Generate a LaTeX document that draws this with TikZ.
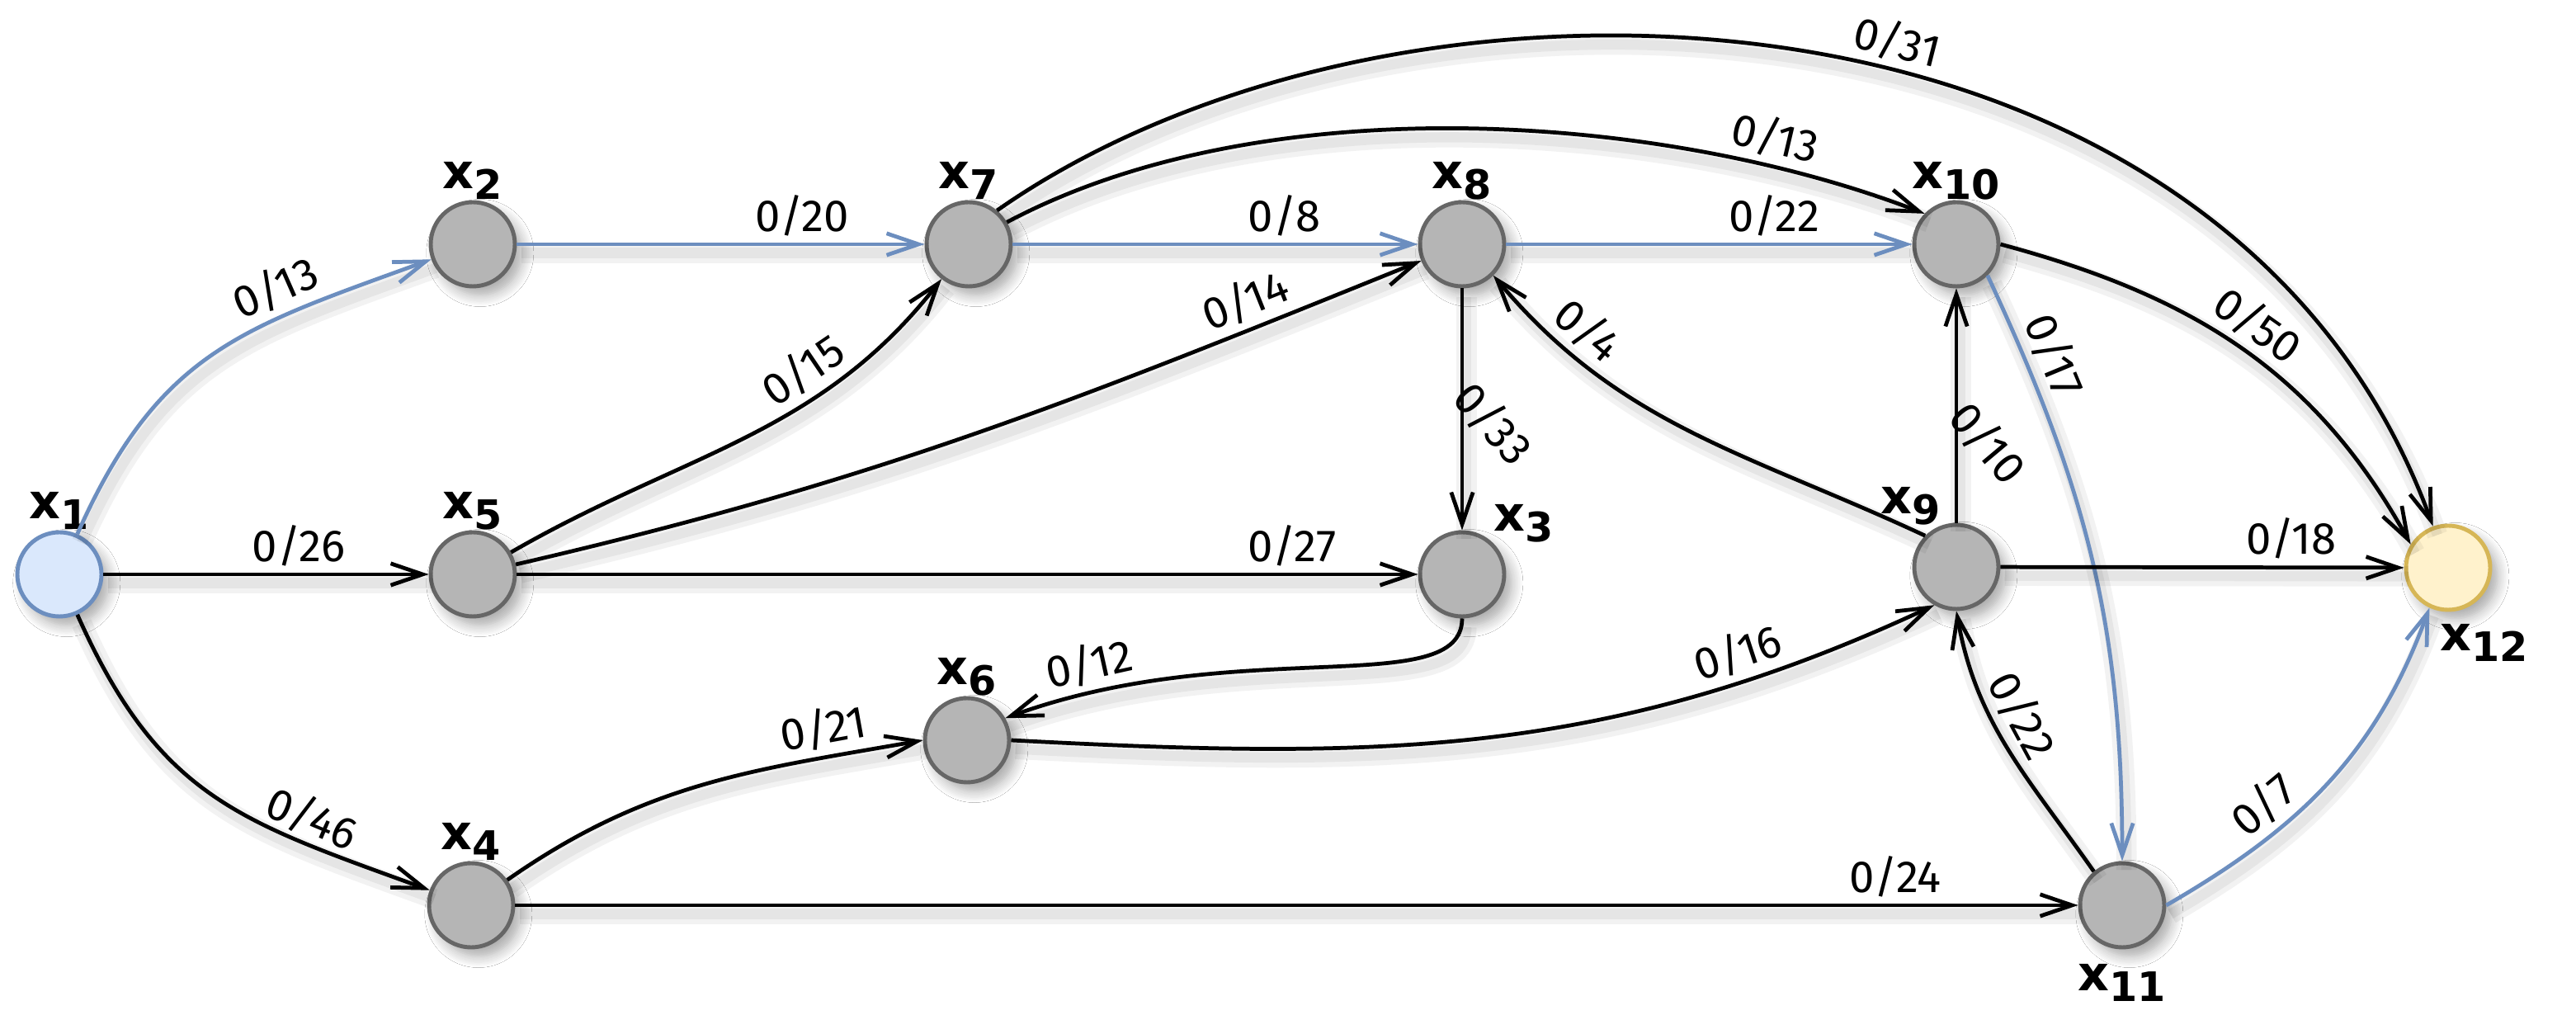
\documentclass[tikz,border=0pt]{standalone}
\usepackage{fontspec}
\setmainfont{Fira Sans}
\newfontfamily\nlfont{DejaVu Sans}
\usetikzlibrary{arrows.meta,shadows.blur}

\definecolor{nodegray}{HTML}{B5B5B5}
\definecolor{nodeline}{HTML}{666666}
\definecolor{srcfill}{HTML}{DAE8FC}
\definecolor{srcline}{HTML}{6C8EBF}
\definecolor{sinkfill}{HTML}{FFF2CC}
\definecolor{sinkline}{HTML}{D6B656}
\definecolor{pathblue}{HTML}{6C8EBF}

% vertex name x_n in bold sans with a large subscript
\newcommand{\xname}[1]{{\nlfont\bfseries\fontsize{16.7pt}{17pt}\selectfont x\raisebox{-3.7pt}{\fontsize{14pt}{14pt}\selectfont #1}}}

\tikzset{
  vertex/.style={circle, minimum size=1.02cm, inner sep=0pt, line width=1.4pt,
    draw=nodeline, fill=nodegray,
    blur shadow={shadow xshift=2.5pt, shadow yshift=-3pt, shadow blur radius=4pt,
      shadow blur steps=8, shadow opacity=35}},
  source/.style={vertex, draw=srcline, fill=srcfill},
  sink/.style={vertex, draw=sinkline, fill=sinkfill},
  nlab/.style={inner sep=0pt, label distance=0pt},
  % soft offset halo under each arc
  arcshadow/.style={
    preaction={draw=black, arrows=-, opacity=0.05, line width=7pt,
      transform canvas={shift={(1.5pt,-3pt)}}},
    preaction={draw=black, arrows=-, opacity=0.05, line width=3.5pt,
      transform canvas={shift={(1.5pt,-3pt)}}}},
  flow/.style={arcshadow, line width=1.35pt, draw=black,
    -{Straight Barb[length=11pt,width=7.5pt]}},
  augflow/.style={flow, draw=pathblue},
  elab/.style={font=\fontsize{15.5pt}{16pt}\selectfont, inner sep=1pt, text=black},
}

\begin{document}
\begin{tikzpicture}
\useasboundingbox (0,0) rectangle (31.22,12.52);
\fill[white] (0,0) rectangle (31.22,12.52);

% vertices
\node[source] (x1)  at (0.72,5.56)  [label={[nlab]above:\xname{1}}] {};
\node[vertex] (x2)  at (5.73,9.56)  [label={[nlab]above:\xname{2}}] {};
\node[vertex] (x5)  at (5.73,5.56)  [label={[nlab]above:\xname{5}}] {};
\node[vertex] (x4)  at (5.71,1.55)  [label={[nlab]above:\xname{4}}] {};
\node[vertex] (x7)  at (11.74,9.56) [label={[nlab]above:\xname{7}}] {};
\node[vertex] (x6)  at (11.72,3.55) [label={[nlab]above:\xname{6}}] {};
\node[vertex] (x8)  at (17.72,9.56) [label={[nlab]above:\xname{8}}] {};
\node[vertex] (x3)  at (17.72,5.56) [label={[nlab,anchor=south west]45:\xname{3}}] {};
\node[vertex] (x10) at (23.71,9.56) [label={[nlab]above:\xname{10}}] {};
\node[vertex] (x9)  at (23.71,5.65) [label={[nlab,anchor=south east]110:\xname{9}}] {};
\node[vertex] (x11) at (25.72,1.55) [label={[nlab,label distance=5pt]below:\xname{11}}] {};
\node[sink]   (x12) at (29.67,5.64) [label={[nlab,anchor=north west,xshift=-3pt,yshift=-4pt]-90:\xname{12}}] {};

% arcs with flow/capacity
\draw[augflow] (x1) to[out=66,in=200,looseness=1.15]
  node[elab,pos=0.7,sloped,above=1.2pt] {0/13} (x2);
\draw[flow] (x1) -- node[elab,pos=0.6,above=1.2pt] {0/26} (x5);
\draw[flow] (x1) to[out=-66,in=160,looseness=1.15]
  node[elab,pos=0.74,sloped,above=0.2pt] {0/46} (x4);
\draw[augflow] (x2) -- node[elab,pos=0.7,above=1.2pt] {0/20} (x7);
\draw[flow] (x5) to[out=30,in=232]
  node[elab,pos=0.68,sloped,above=1.2pt] {0/15} (x7);
\draw[flow] (x5) to[out=13,in=202]
  node[elab,pos=0.83,sloped,above=1.2pt] {0/14} (x8);
\draw[flow] (x5) -- node[elab,pos=0.86,above=1.2pt] {0/27} (x3);
\draw[augflow] (x7) -- node[elab,pos=0.67,above=1.2pt] {0/8} (x8);
\draw[flow] (x7.30) to[out=28,in=159,looseness=0.8]
  node[elab,pos=0.82,sloped,above=1.2pt] {0/13} (x10.136);
\draw[flow] (x7.50) to[out=35,in=110,out distance=6cm,in distance=7.3cm]
  node[elab,pos=0.56,sloped,above=1.2pt] {0/31} (x12);
\draw[augflow] (x8) -- node[elab,pos=0.66,above=1.2pt] {0/22} (x10);
\draw[flow] (x8) -- node[elab,pos=0.56,xshift=0.38cm,rotate=-48] {0/33} (x3);
\draw[flow] (x9.135) to[out=155,in=-50]
  node[elab,pos=0.8,sloped,above=1.2pt] {0/4} (x8.-45);
\draw[flow] (x3.south) to[out=-90,in=20,out distance=1cm,in distance=3cm]
  node[elab,pos=0.87,sloped,above=1.2pt] {0/12} (x6.30);
\draw[flow] (x4) to[out=35,in=190]
  node[elab,pos=0.8,sloped,above=1.2pt] {0/21} (x6.west);
\draw[flow] (x6.east) to[out=-3,in=205]
  node[elab,pos=0.8,sloped,above=1.2pt] {0/16} (x9.240);
\draw[flow] (x4) -- node[elab,pos=0.883,above=1.2pt] {0/24} (x11);
\draw[flow] (x10.east) to[out=-15,in=119]
  node[elab,pos=0.5,sloped,above=1.2pt] {0/50} (x12.148);
\draw[augflow] (x10.-45) to[out=-65,in=90]
  node[elab,pos=0.15,sloped,above=1.2pt] {0/17} (x11.north);
\draw[flow] (x9) -- node[elab,pos=0.34,xshift=0.38cm,rotate=-50] {0/10} (x10);
\draw[flow] (x9) -- node[elab,pos=0.72,above=1.2pt] {0/18} (x12);
\draw[flow] (x11.130) to[out=125,in=-80]
  node[elab,pos=0.58,sloped,above=1.2pt] {0/22} (x9.south);
\draw[augflow] (x11.east) to[out=30,in=250]
  node[elab,pos=0.33,sloped,above=1.2pt] {0/7} (x12.245);
\end{tikzpicture}
\end{document}
